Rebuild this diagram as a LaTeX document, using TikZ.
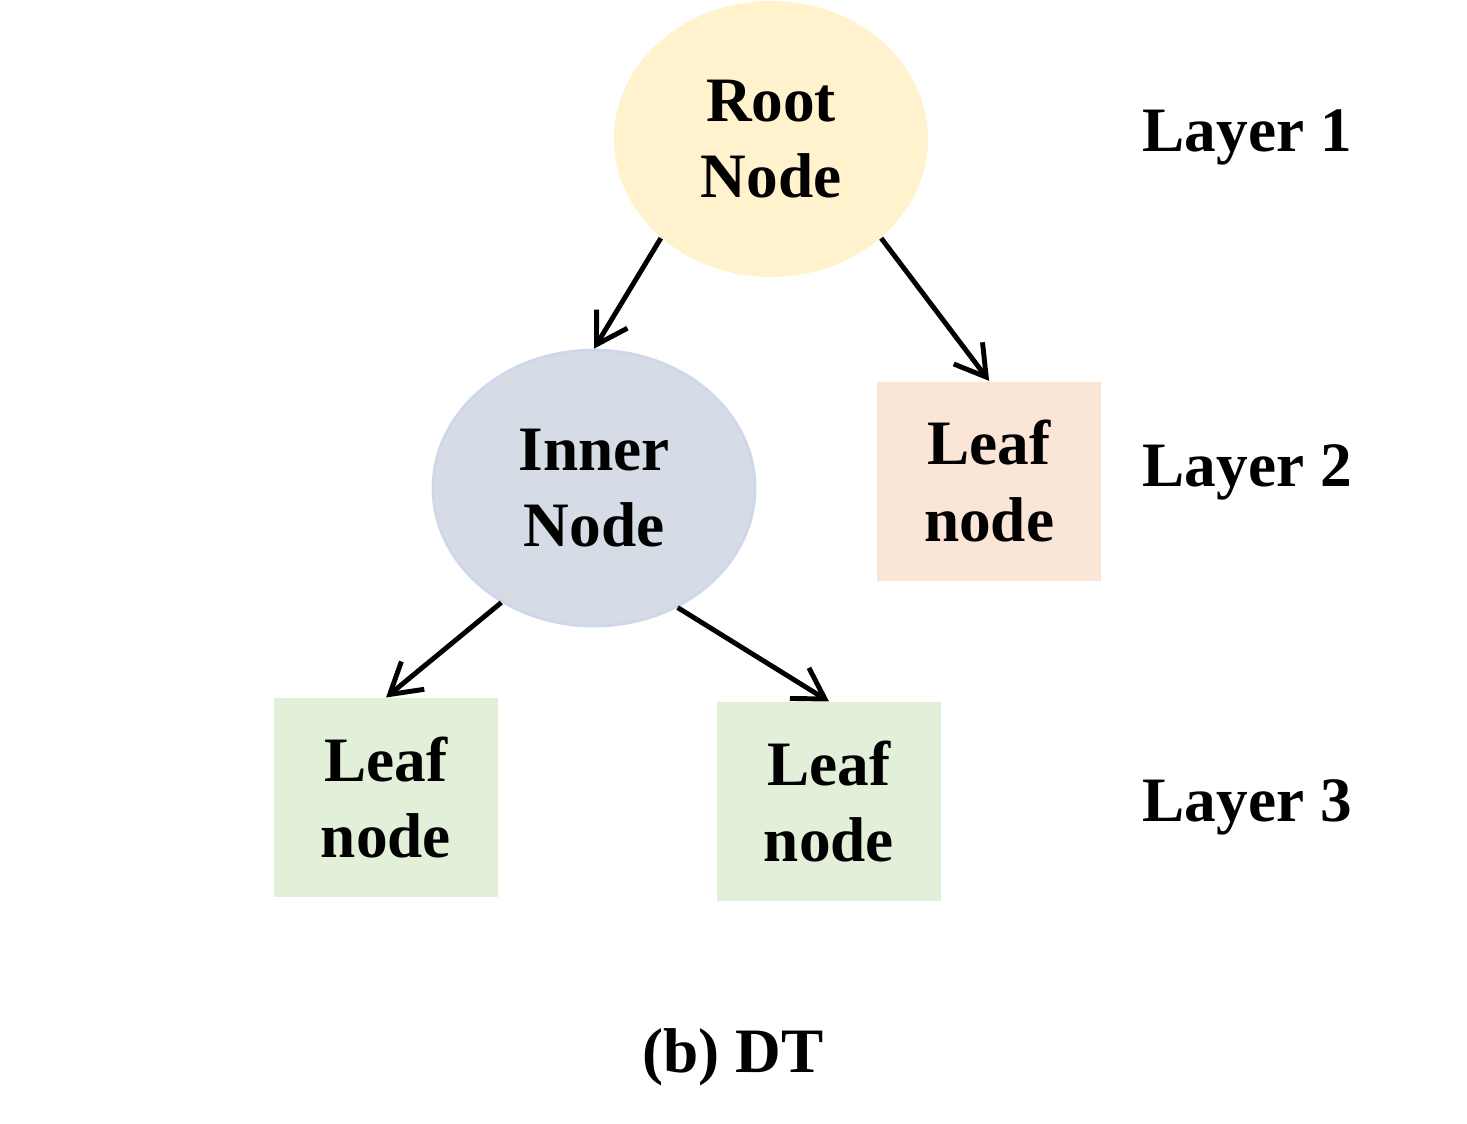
\documentclass[tikz,border=0pt]{standalone}
\usepackage{fontspec}
\setmainfont{Liberation Serif}
\usepackage{tikz}
\usetikzlibrary{positioning, shapes.geometric, arrows.meta}

\definecolor{rootfill}{HTML}{FFF2CC}
\definecolor{innerfill}{HTML}{D6DCE5}
\definecolor{innerline}{HTML}{CFD7EA}
\definecolor{leaftwofill}{HTML}{FBE5D6}
\definecolor{leafthreefill}{HTML}{E2F0D9}

\tikzset{
  treetext/.style={font=\fontsize{18}{21.8}\selectfont\bfseries, align=center, inner sep=0pt},
  rootnode/.style={treetext, ellipse, fill=rootfill, minimum width=3.14cm, minimum height=2.76cm},
  innernode/.style={treetext, ellipse, fill=innerfill, draw=innerline, line width=0.8pt, minimum width=3.22cm, minimum height=2.76cm},
  leafnode/.style={treetext, rectangle, minimum width=2.24cm, minimum height=1.99cm},
  layerlabel/.style={treetext, anchor=base west},
  treeedge/.style={-{Straight Barb[length=3mm, width=3.6mm]}, line width=1.4pt, black},
}

\begin{document}
\begin{tikzpicture}

  \useasboundingbox (0,0) rectangle (14.67,11.24);

  \node[rootnode] (root) at (7.71,9.85) {Root\\Node};

  \node[innernode, below=0.71cm of root, xshift=-1.77cm] (inner) {Inner\\Node};
  \node[leafnode, fill=leaftwofill, right=1.2cm of inner, yshift=0.07cm] (leaf_2) {Leaf\\node};

  \node[leafnode, fill=leafthreefill, below=0.70cm of inner, xshift=-2.08cm] (leaf_3a) {Leaf\\node};
  \node[leafnode, fill=leafthreefill, below=0.74cm of inner, xshift=2.35cm] (leaf_3b) {Leaf\\node};

  \node[layerlabel] (layer_1) at (11.42,9.72) {Layer 1};
  \node[layerlabel] (layer_2) at (11.42,6.37) {Layer 2};
  \node[layerlabel] (layer_3) at (11.42,3.02) {Layer 3};

  \node[treetext, anchor=base] (caption) at (7.33,0.51) {(b) DT};

  \draw[treeedge] (root.222) -- (inner.north);
  \draw[treeedge] (root.318) -- (leaf_2.north);
  \draw[treeedge] (inner.231) -- (leaf_3a.north);
  \draw[treeedge] (inner.305) -- (leaf_3b.north);

\end{tikzpicture}
\end{document}
